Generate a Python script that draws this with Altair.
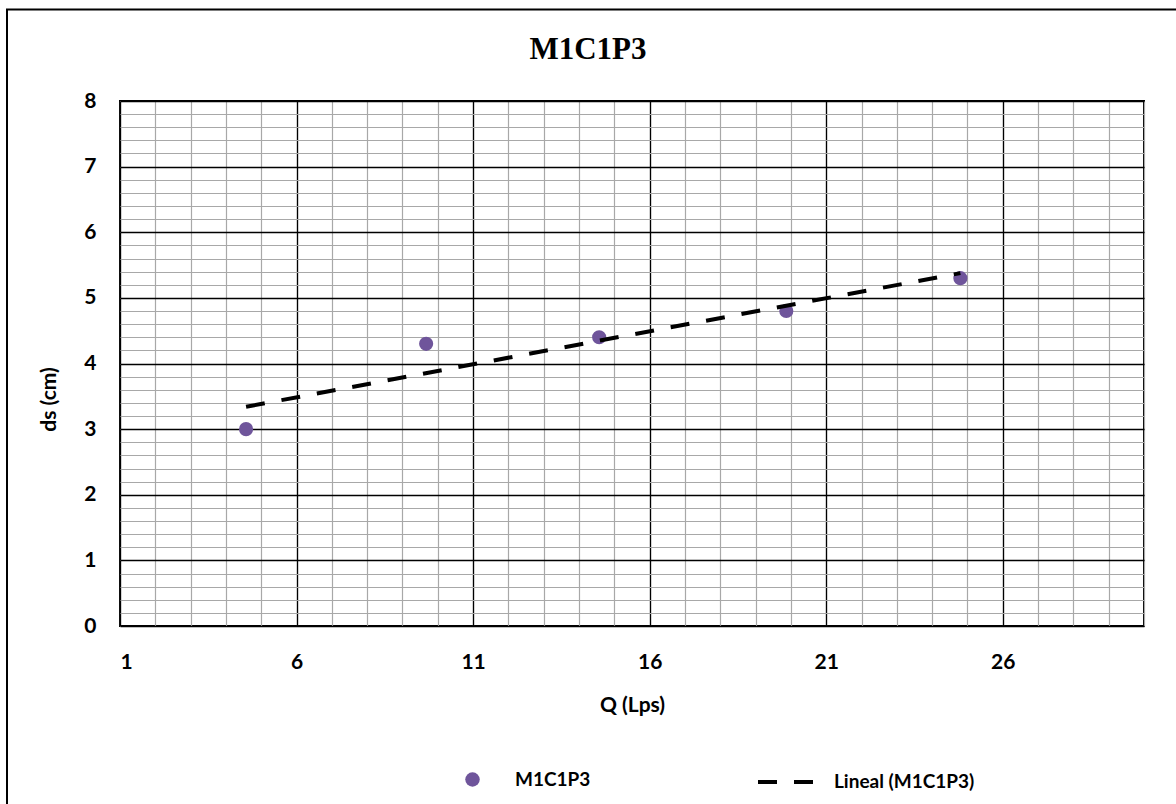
import altair as alt
import pandas as pd

# ---- data ----
Q = [4.57, 9.67, 14.57, 19.87, 24.8]
DS = [3.0, 4.3, 4.4, 4.8, 5.3]
SERIES = "M1C1P3"
TREND = "Lineal (M1C1P3)"
TITLE = "M1C1P3"
X_TITLE = "Q (Lps)"
Y_TITLE = "ds (cm)"
X_MAJOR = [1, 6, 11, 16, 21, 26]
X_MINOR = list(range(1, 31))
Y_MAJOR = list(range(0, 9))
Y_MINOR = [round(i * 0.2, 1) for i in range(41)]

df = pd.DataFrame({"Q": Q, "ds": DS, "series": [SERIES] * len(Q)})

FONT = "Lato"
W, H = 1024, 525

xscale = alt.Scale(domain=[1, 30], nice=False, zero=False)
yscale = alt.Scale(domain=[0, 8], nice=False, zero=True)

minor_x = alt.Axis(values=X_MINOR, grid=True, gridColor="#a8a8a8", gridWidth=1.2,
                   labels=False, ticks=False, domain=False, title="", orient="bottom")
minor_y = alt.Axis(values=Y_MINOR, grid=True, gridColor="#a8a8a8", gridWidth=1.2,
                   labels=False, ticks=False, domain=False, title="", orient="left")

major_x = alt.Axis(values=X_MAJOR, grid=True, gridColor="black", gridWidth=1.3,
                   ticks=False, domain=False, orient="bottom",
                   labelFont=FONT, labelFontSize=21, labelFontWeight="bold", labelColor="black",
                   labelPadding=25, labelBaseline="top",
                   title=X_TITLE, titleFont=FONT, titleFontSize=21, titleFontWeight="bold",
                   titleColor="black", titleX=W / 2, titleY=79, titleBaseline="middle",
                   titleAlign="center")
major_y = alt.Axis(values=Y_MAJOR, grid=True, gridColor="black", gridWidth=1.3,
                   ticks=False, domain=False, orient="left",
                   labelFont=FONT, labelFontSize=21, labelFontWeight="bold", labelColor="black",
                   labelPadding=24, labelBaseline="middle",
                   title=Y_TITLE, titleFont=FONT, titleFontSize=21, titleFontWeight="bold",
                   titleColor="black", titleAngle=270, titleX=-71, titleY=298,
                   titleBaseline="middle", titleAlign="center")

border = alt.Chart(alt.Data(values=[{"a": 1}])).mark_rect(
    fillOpacity=0, stroke="black", strokeWidth=2, clip=False
).encode(
    x=alt.value(-113), x2=alt.value(1080), y=alt.value(-91.5), y2=alt.value(730)
)

points = alt.Chart(df).mark_circle(size=200, opacity=1).encode(
    x=alt.X("Q:Q", scale=xscale, axis=minor_x),
    y=alt.Y("ds:Q", scale=yscale, axis=minor_y),
    color=alt.Color(
        "series:N",
        scale=alt.Scale(domain=[SERIES], range=["#6f559b"]),
        legend=alt.Legend(orient="none", legendX=343, legendY=669, title=None,
                          direction="horizontal", padding=0,
                          symbolType="circle", symbolSize=210, symbolStrokeWidth=0,
                          labelFont=FONT, labelFontSize=19, labelFontWeight="bold",
                          labelColor="black", labelOffset=33),
    ),
)

trend = alt.Chart(df).transform_regression("Q", "ds").transform_calculate(
    trend="'" + TREND + "'"
).mark_line(
    color="black", strokeWidth=4, strokeCap="butt"
).encode(
    x=alt.X("Q:Q", scale=xscale, axis=major_x),
    y=alt.Y("ds:Q", scale=yscale, axis=major_y),
    strokeDash=alt.StrokeDash(
        "trend:N",
        scale=alt.Scale(domain=[TREND], range=[[19, 17]]),
        legend=alt.Legend(orient="none", legendX=636, legendY=651, title=None,
                          direction="horizontal", padding=0,
                          symbolType="stroke", symbolSize=3136, symbolStrokeWidth=4,
                          symbolStrokeColor="black",
                          labelFont=FONT, labelFontSize=19, labelFontWeight="bold",
                          labelColor="black", labelOffset=18),
    ),
)

title = alt.Chart(alt.Data(values=[{"t": TITLE}])).mark_text(
    font="Liberation Serif", fontSize=31, fontWeight="bold", baseline="alphabetic",
    align="center", color="black"
).encode(text="t:N", x=alt.value(468), y=alt.value(-42))

chart = alt.layer(border, points, trend, title).resolve_axis(
    x="independent", y="independent"
).resolve_legend(
    color="independent", strokeDash="independent"
).properties(
    width=W, height=H,
    autosize=alt.AutoSizeParams(type="none"),
    padding={"left": 120, "top": 101, "right": 32, "bottom": 178},
    background="white",
).configure_view(stroke="black", strokeWidth=2)

chart.save("out.html", embed_options={"renderer": "svg", "actions": False})
